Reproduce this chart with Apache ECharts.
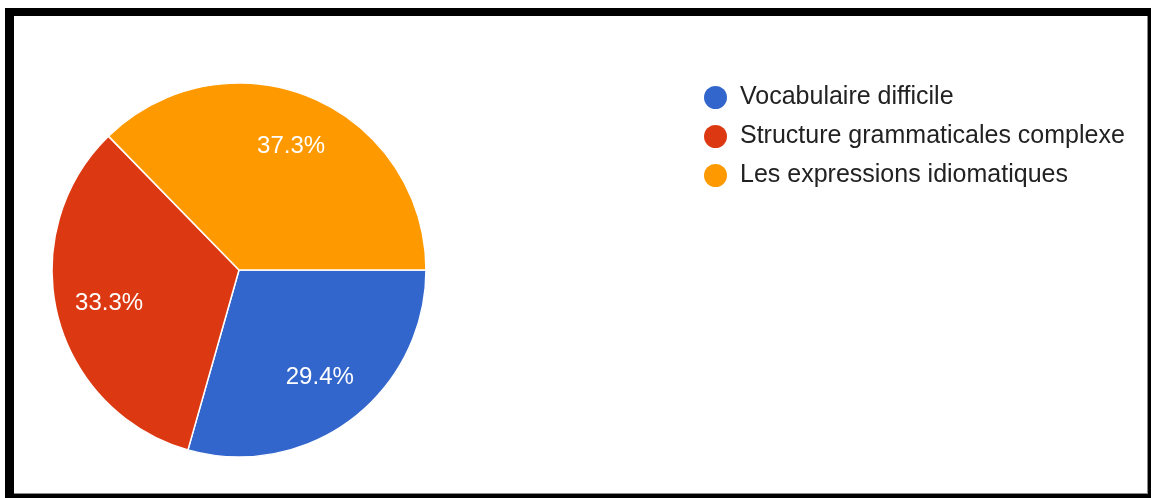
<!DOCTYPE html>
<html>
<head>
<meta charset="utf-8">
<title>Difficultés rencontrées</title>
<script src="https://cdn.jsdelivr.net/npm/echarts@6/dist/echarts.min.js"></script>
<style>
  html, body { margin: 0; padding: 0; background: #fff; }
  #wrap { position: relative; width: 1151px; height: 498px; overflow: hidden; }
  #chart { position: absolute; left: 0; top: 0; width: 1151px; height: 498px; }
  .frame { position: absolute; background: #000; pointer-events: none; }
  .edge { position: absolute; background: #8a8a8a; pointer-events: none; }
</style>
</head>
<body>
<div id="wrap">
  <div id="chart"></div>
  <!-- black frame: heavy top/left, thin right/bottom -->
  <div class="frame" style="left:5px; top:8px; width:1146px; height:8px;"></div>
  <div class="frame" style="left:5px; top:8px; width:9px; height:490px;"></div>
  <div class="frame" style="left:1148px; top:12px; width:3px; height:486px;"></div>
  <div class="frame" style="left:5px; top:494px; width:1146px; height:4px;"></div>
  <div class="edge" style="left:1147px; top:16px; width:1px; height:478px;"></div>
  <div class="edge" style="left:14px; top:493px; width:1134px; height:1px;"></div>
</div>
<script>
// Answer categories and their shares (percent)
const categories = ['Vocabulaire difficile', 'Structure grammaticales complexe', 'Les expressions idiomatiques'];
const shares = [29.4, 33.3, 37.3];
const colors = ['#3366CC', '#DC3912', '#FF9900'];

const fontFamily = 'Arial, "Liberation Sans", sans-serif';
const pieCenter = [239, 270];
const pieRadius = 187;
// labels sit midway across this ring, i.e. at about 0.7 of the radius
const labelRingInner = 75;

const sliceData = categories.map((name, i) => ({
  name: name,
  value: shares[i],
  itemStyle: { color: colors[i] }
}));

const chart = echarts.init(document.getElementById('chart'), null, { renderer: 'canvas' });

chart.setOption({
  animation: false,
  backgroundColor: '#ffffff',
  legend: {
    orient: 'vertical',
    left: 704,
    top: 85,
    padding: 0,
    icon: 'circle',
    itemWidth: 23,
    itemHeight: 23,
    itemGap: 14,
    selectedMode: false,
    itemStyle: { borderWidth: 0 },
    textStyle: {
      fontFamily: fontFamily,
      fontSize: 25,
      lineHeight: 25,
      color: '#222222',
      padding: [0, 0, 0, 8]
    },
    data: categories
  },
  series: [
    {
      // the slices themselves
      name: 'slices',
      type: 'pie',
      center: pieCenter,
      radius: pieRadius,
      startAngle: 0,
      clockwise: true,
      silent: true,
      label: { show: false },
      labelLine: { show: false },
      itemStyle: { borderColor: '#ffffff', borderWidth: 1.5 },
      emphasis: { disabled: true },
      data: sliceData
    },
    {
      // transparent ring carrying the percentage labels
      name: 'labels',
      type: 'pie',
      center: pieCenter,
      radius: [labelRingInner, pieRadius],
      startAngle: 0,
      clockwise: true,
      silent: true,
      legendHoverLink: false,
      emphasis: { disabled: true },
      itemStyle: { color: 'rgba(0,0,0,0)', borderWidth: 0 },
      label: {
        show: true,
        position: 'inside',
        formatter: p => p.value.toFixed(1) + '%',
        fontFamily: fontFamily,
        fontSize: 24,
        color: '#ffffff'
      },
      labelLine: { show: false },
      data: categories.map((name, i) => ({ name: name, value: shares[i] }))
    }
  ]
});
</script>
</body>
</html>
